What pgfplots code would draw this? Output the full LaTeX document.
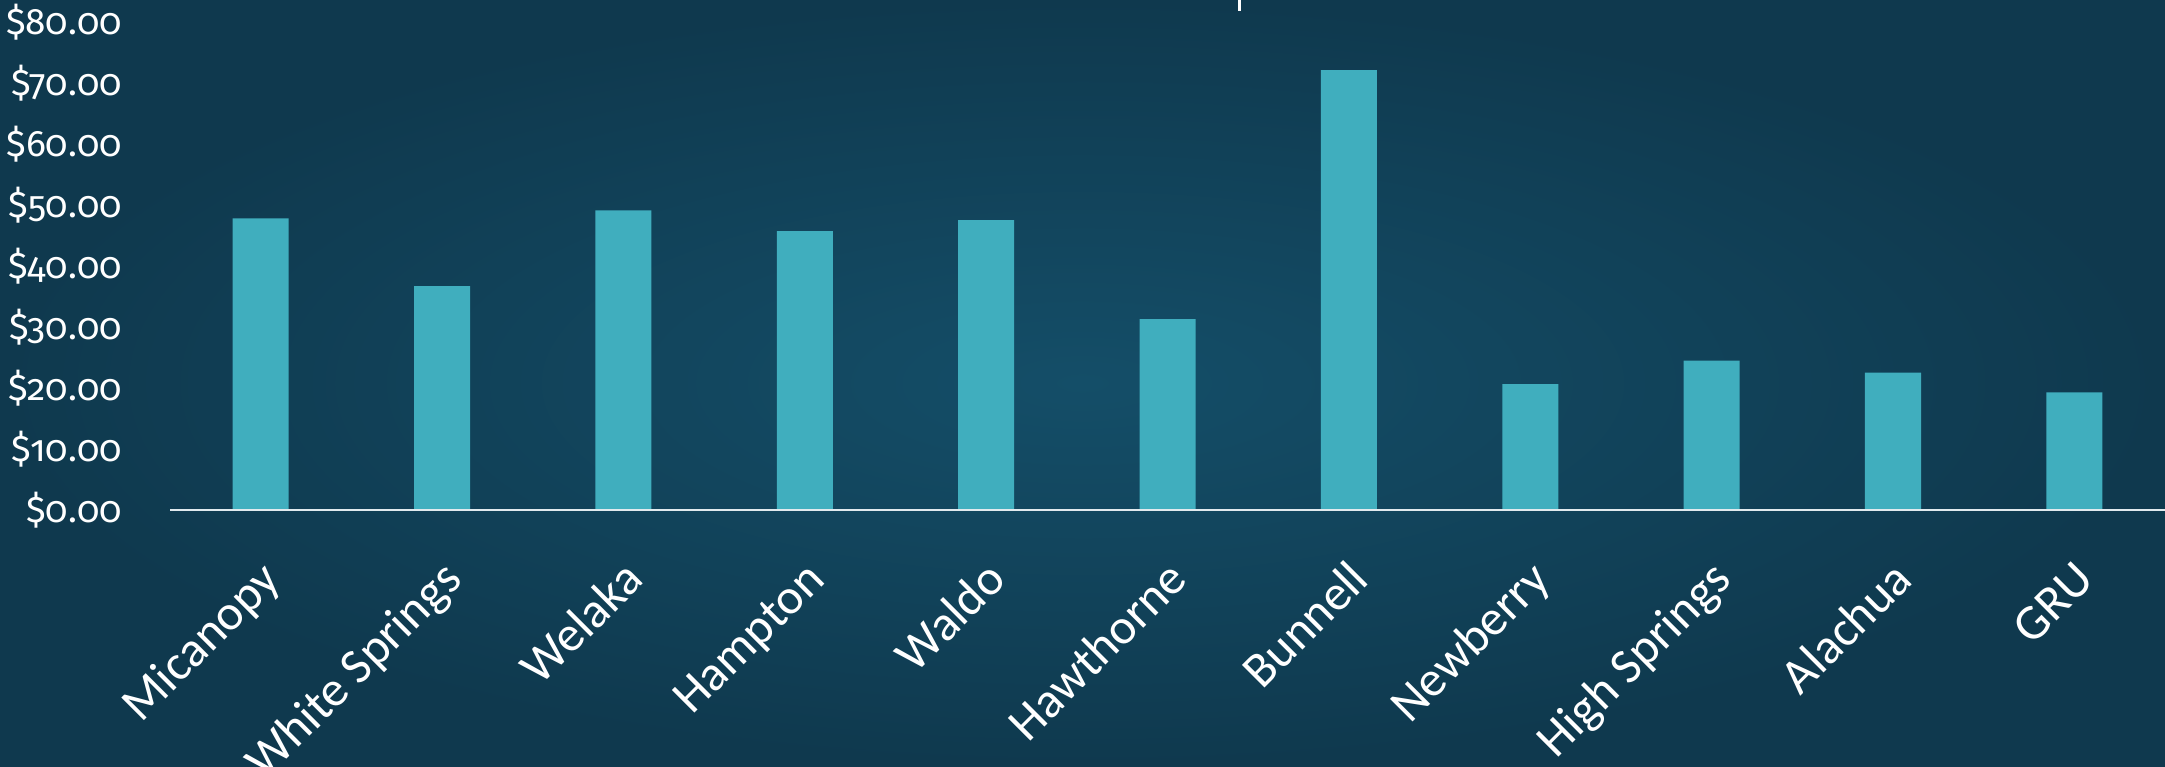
\documentclass[border=0pt]{standalone}
\usepackage{fontspec}
\setmainfont{Carlito}
\newfontfamily\tickfont{Fira Sans}[Numbers=OldStyle]
\usepackage{pgfplots}
\pgfplotsset{compat=1.18}
\definecolor{barc}{RGB}{64,174,190}
\definecolor{bgin}{RGB}{20,78,104}
\definecolor{bgout}{RGB}{15,57,78}
\definecolor{basel}{RGB}{225,234,238}
\begin{document}
\begin{tikzpicture}[x=1bp,y=1bp]
\shade[inner color=bgin, outer color=bgout] (0,0) rectangle (2165,766);
\fill[white] (1237.5,755) rectangle (1240.5,766);
\begin{axis}[
  at={(170bp,256bp)}, anchor=south west,
  scale only axis, width=1995bp, height=488bp,
  xmin=-0.5, xmax=10.5, ymin=0, ymax=80,
  ytick={0,10,...,80}, xtick={0,...,10},
  xticklabels={Micanopy,White Springs,Welaka,Hampton,Waldo,Hawthorne,Bunnell,Newberry,High Springs,Alachua,GRU},
  axis line style={draw=none}, major tick length=0pt,
  /pgf/number format/assume math mode=true,
  yticklabel={\$\pgfmathprintnumber[fixed,fixed zerofill,precision=2]{\tick}},
  yticklabel style={anchor=east, inner sep=0pt, xshift=-48bp, text=white, font=\tickfont\fontsize{37}{40}\selectfont},
  xticklabel style={xshift=22bp, yshift=-72bp, rotate=45, anchor=base east, inner sep=0pt, text=white, font=\fontsize{50}{52}\selectfont},
  ybar, bar width=56bp,
  clip=false,
]
\addplot[fill=barc, draw=none] coordinates {(0,47.8) (1,36.7) (2,49.1) (3,45.7) (4,47.5) (5,31.3) (6,72.1) (7,20.65) (8,24.5) (9,22.5) (10,19.3)};
\draw[basel, line width=2.5bp] (axis cs:-0.5,0) -- (axis cs:10.5,0);
\end{axis}
\pgfresetboundingbox
\path[use as bounding box] (0,0) rectangle (2165,766);
\end{tikzpicture}
\end{document}
